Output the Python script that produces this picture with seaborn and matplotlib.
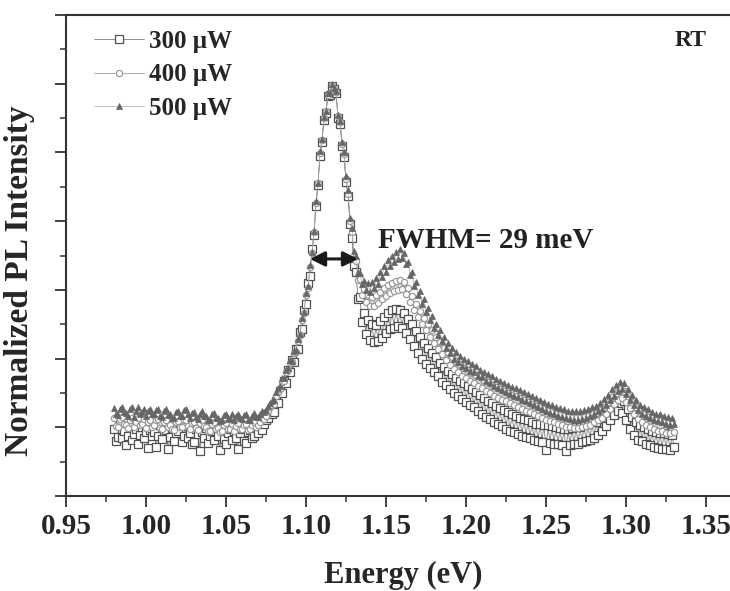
"""
PL normalizado a temperatura ambiente para tres potencias de excitación.
Reproduce la figura con seaborn + matplotlib; guarda out.png.
"""

import matplotlib
matplotlib.use("Agg")
import matplotlib.pyplot as plt
from matplotlib.ticker import MultipleLocator, NullFormatter
import seaborn as sns

# ─── Datos ──────────────────────────────────────────────────────────────────

# Energía (eV), paso de 1.25 meV; una fila = 25 meV
ENERGIA = [
    0.98000, 0.98125, 0.98250, 0.98375, 0.98500, 0.98625, 0.98750, 0.98875, 0.99000, 0.99125,
    0.99250, 0.99375, 0.99500, 0.99625, 0.99750, 0.99875, 1.00000, 1.00125, 1.00250, 1.00375,
    1.00500, 1.00625, 1.00750, 1.00875, 1.01000, 1.01125, 1.01250, 1.01375, 1.01500, 1.01625,
    1.01750, 1.01875, 1.02000, 1.02125, 1.02250, 1.02375, 1.02500, 1.02625, 1.02750, 1.02875,
    1.03000, 1.03125, 1.03250, 1.03375, 1.03500, 1.03625, 1.03750, 1.03875, 1.04000, 1.04125,
    1.04250, 1.04375, 1.04500, 1.04625, 1.04750, 1.04875, 1.05000, 1.05125, 1.05250, 1.05375,
    1.05500, 1.05625, 1.05750, 1.05875, 1.06000, 1.06125, 1.06250, 1.06375, 1.06500, 1.06625,
    1.06750, 1.06875, 1.07000, 1.07125, 1.07250, 1.07375, 1.07500, 1.07625, 1.07750, 1.07875,
    1.08000, 1.08125, 1.08250, 1.08375, 1.08500, 1.08625, 1.08750, 1.08875, 1.09000, 1.09125,
    1.09250, 1.09375, 1.09500, 1.09625, 1.09750, 1.09875, 1.10000, 1.10125, 1.10250, 1.10375,
    1.10500, 1.10625, 1.10750, 1.10875, 1.11000, 1.11125, 1.11250, 1.11375, 1.11500, 1.11625,
    1.11750, 1.11875, 1.12000, 1.12125, 1.12250, 1.12375, 1.12500, 1.12625, 1.12750, 1.12875,
    1.13000, 1.13125, 1.13250, 1.13375, 1.13500, 1.13625, 1.13750, 1.13875, 1.14000, 1.14125,
    1.14250, 1.14375, 1.14500, 1.14625, 1.14750, 1.14875, 1.15000, 1.15125, 1.15250, 1.15375,
    1.15500, 1.15625, 1.15750, 1.15875, 1.16000, 1.16125, 1.16250, 1.16375, 1.16500, 1.16625,
    1.16750, 1.16875, 1.17000, 1.17125, 1.17250, 1.17375, 1.17500, 1.17625, 1.17750, 1.17875,
    1.18000, 1.18125, 1.18250, 1.18375, 1.18500, 1.18625, 1.18750, 1.18875, 1.19000, 1.19125,
    1.19250, 1.19375, 1.19500, 1.19625, 1.19750, 1.19875, 1.20000, 1.20125, 1.20250, 1.20375,
    1.20500, 1.20625, 1.20750, 1.20875, 1.21000, 1.21125, 1.21250, 1.21375, 1.21500, 1.21625,
    1.21750, 1.21875, 1.22000, 1.22125, 1.22250, 1.22375, 1.22500, 1.22625, 1.22750, 1.22875,
    1.23000, 1.23125, 1.23250, 1.23375, 1.23500, 1.23625, 1.23750, 1.23875, 1.24000, 1.24125,
    1.24250, 1.24375, 1.24500, 1.24625, 1.24750, 1.24875, 1.25000, 1.25125, 1.25250, 1.25375,
    1.25500, 1.25625, 1.25750, 1.25875, 1.26000, 1.26125, 1.26250, 1.26375, 1.26500, 1.26625,
    1.26750, 1.26875, 1.27000, 1.27125, 1.27250, 1.27375, 1.27500, 1.27625, 1.27750, 1.27875,
    1.28000, 1.28125, 1.28250, 1.28375, 1.28500, 1.28625, 1.28750, 1.28875, 1.29000, 1.29125,
    1.29250, 1.29375, 1.29500, 1.29625, 1.29750, 1.29875, 1.30000, 1.30125, 1.30250, 1.30375,
    1.30500, 1.30625, 1.30750, 1.30875, 1.31000, 1.31125, 1.31250, 1.31375, 1.31500, 1.31625,
    1.31750, 1.31875, 1.32000, 1.32125, 1.32250, 1.32375, 1.32500, 1.32625, 1.32750, 1.32875,
    1.33000,
]

PL_300 = [
    0.98, 0.80, 0.86, 1.06, 0.84, 0.95, 0.74, 0.88, 1.01, 0.82, 0.90, 0.97, 0.76, 0.89, 1.00, 0.85, 0.93, 0.70, 0.96, 0.87,
    0.93, 0.72, 0.88, 1.03, 0.83, 0.95, 0.96, 0.69, 0.86, 0.99, 0.80, 0.91, 0.95, 1.04, 0.78, 0.88, 1.02, 0.84, 0.92, 0.76,
    0.78, 0.97, 0.90, 0.66, 0.93, 0.85, 0.99, 0.77, 0.87, 0.94, 0.81, 1.01, 0.88, 0.67, 1.00, 0.83, 0.75, 0.92, 0.98, 0.82,
    0.95, 0.84, 0.68, 0.92, 0.97, 0.80, 0.77, 0.93, 0.96, 0.85, 0.88, 1.00, 0.92, 1.02, 0.96, 1.05, 1.10, 1.14, 1.22, 1.20,
    1.22, 1.38, 1.36, 1.53, 1.50, 1.67, 1.65, 1.83, 1.81, 1.98, 1.95, 2.14, 2.14, 2.38, 2.43, 2.71, 2.79, 3.10, 3.20, 3.60,
    3.80, 4.22, 4.52, 4.95, 5.15, 5.47, 5.58, 5.82, 5.84, 5.97, 5.92, 5.86, 5.50, 5.42, 5.10, 4.93, 4.57, 4.36, 3.96, 3.75,
    3.35, 3.26, 2.86, 2.90, 2.53, 2.66, 2.36, 2.56, 2.27, 2.50, 2.24, 2.49, 2.26, 2.55, 2.30, 2.60, 2.37, 2.66, 2.43, 2.70,
    2.45, 2.72, 2.48, 2.70, 2.44, 2.66, 2.37, 2.58, 2.28, 2.50, 2.19, 2.40, 2.08, 2.31, 2.00, 2.22, 1.92, 2.15, 1.86, 2.08,
    1.80, 2.02, 1.74, 1.93, 1.66, 1.88, 1.61, 1.82, 1.55, 1.77, 1.50, 1.72, 1.45, 1.68, 1.41, 1.64, 1.37, 1.60, 1.32, 1.55,
    1.29, 1.52, 1.24, 1.47, 1.20, 1.43, 1.15, 1.38, 1.12, 1.35, 1.08, 1.31, 1.05, 1.28, 1.02, 1.25, 0.98, 1.22, 0.95, 1.19,
    0.93, 1.17, 0.90, 1.14, 0.88, 1.12, 0.86, 1.10, 0.84, 1.07, 0.82, 1.05, 0.80, 1.05, 0.79, 1.04, 0.67, 1.03, 0.77, 1.02,
    0.76, 1.00, 0.75, 0.99, 0.74, 0.98, 0.66, 0.98, 0.74, 0.99, 0.75, 1.00, 0.76, 1.01, 0.78, 1.03, 0.80, 1.05, 0.82, 1.07,
    0.85, 1.08, 0.89, 1.12, 0.94, 1.21, 1.02, 1.28, 1.10, 1.36, 1.18, 1.42, 1.24, 1.45, 1.21, 1.38, 1.10, 1.26, 0.98, 1.15,
    0.89, 1.08, 0.82, 1.04, 0.80, 1.00, 0.75, 0.97, 0.74, 0.95, 0.71, 0.93, 0.70, 0.92, 0.69, 0.91, 0.69, 0.90, 0.67, 0.89,
    0.72,
]

PL_400 = [
    1.13, 1.02, 1.00, 1.12, 1.15, 1.05, 1.04, 0.99, 1.11, 1.14, 1.00, 1.07, 1.13, 1.03, 1.05, 1.12, 0.99, 1.08, 1.11, 1.01,
    1.04, 1.10, 1.12, 0.99, 0.98, 1.08, 1.11, 1.01, 1.03, 0.97, 0.96, 1.07, 1.09, 1.00, 1.01, 1.10, 1.11, 1.02, 0.97, 1.06,
    1.08, 0.99, 0.96, 1.06, 1.10, 1.02, 1.01, 0.95, 0.95, 1.05, 1.07, 0.98, 0.99, 0.93, 0.94, 1.04, 1.06, 0.97, 0.98, 1.05,
    0.95, 1.02, 1.06, 0.98, 0.97, 1.04, 1.05, 0.96, 0.97, 1.03, 1.08, 1.01, 1.03, 1.08, 1.14, 1.12, 1.17, 1.23, 1.29, 1.32,
    1.34, 1.45, 1.51, 1.56, 1.66, 1.68, 1.80, 1.83, 1.94, 1.95, 2.08, 2.10, 2.26, 2.34, 2.56, 2.66, 2.92, 3.03, 3.33, 3.53,
    3.84, 4.27, 4.55, 4.99, 5.18, 5.50, 5.60, 5.84, 5.86, 5.98, 5.93, 5.88, 5.53, 5.44, 5.12, 4.97, 4.62, 4.40, 4.00, 3.84,
    3.45, 3.42, 3.15, 3.16, 2.93, 3.01, 2.82, 2.93, 2.76, 2.90, 2.77, 2.93, 2.81, 2.97, 2.86, 3.02, 2.91, 3.07, 2.95, 3.10,
    2.98, 3.13, 3.00, 3.15, 3.01, 3.12, 2.94, 3.03, 2.83, 2.91, 2.71, 2.79, 2.60, 2.69, 2.50, 2.59, 2.41, 2.50, 2.31, 2.41,
    2.22, 2.32, 2.14, 2.24, 2.06, 2.16, 1.98, 2.09, 1.91, 2.02, 1.85, 1.97, 1.80, 1.92, 1.75, 1.87, 1.71, 1.83, 1.67, 1.79,
    1.64, 1.76, 1.60, 1.73, 1.57, 1.69, 1.53, 1.66, 1.50, 1.62, 1.46, 1.59, 1.43, 1.56, 1.40, 1.53, 1.38, 1.50, 1.35, 1.47,
    1.32, 1.45, 1.30, 1.42, 1.27, 1.39, 1.24, 1.37, 1.22, 1.34, 1.19, 1.31, 1.16, 1.29, 1.14, 1.26, 1.11, 1.24, 1.09, 1.22,
    1.07, 1.20, 1.05, 1.18, 1.03, 1.16, 1.01, 1.15, 1.00, 1.13, 0.99, 1.13, 0.99, 1.13, 1.00, 1.15, 1.02, 1.17, 1.04, 1.19,
    1.07, 1.21, 1.10, 1.25, 1.14, 1.30, 1.20, 1.37, 1.27, 1.44, 1.34, 1.50, 1.40, 1.55, 1.42, 1.53, 1.37, 1.46, 1.28, 1.37,
    1.20, 1.30, 1.12, 1.23, 1.07, 1.19, 1.03, 1.15, 1.00, 1.13, 0.97, 1.10, 0.95, 1.09, 0.94, 1.07, 0.92, 1.06, 0.91, 1.05,
    0.93,
]

PL_500 = [
    1.28, 1.20, 1.18, 1.27, 1.30, 1.22, 1.21, 1.16, 1.26, 1.29, 1.15, 1.23, 1.29, 1.20, 1.22, 1.27, 1.17, 1.24, 1.27, 1.19,
    1.20, 1.25, 1.27, 1.16, 1.15, 1.23, 1.26, 1.18, 1.19, 1.14, 1.13, 1.22, 1.24, 1.16, 1.17, 1.25, 1.26, 1.19, 1.14, 1.21,
    1.22, 1.15, 1.12, 1.20, 1.24, 1.17, 1.16, 1.11, 1.11, 1.19, 1.21, 1.14, 1.14, 1.09, 1.10, 1.18, 1.20, 1.12, 1.13, 1.19,
    1.10, 1.16, 1.20, 1.13, 1.12, 1.18, 1.19, 1.11, 1.11, 1.17, 1.21, 1.15, 1.15, 1.20, 1.24, 1.22, 1.25, 1.31, 1.36, 1.38,
    1.40, 1.51, 1.57, 1.60, 1.71, 1.72, 1.84, 1.86, 1.98, 1.97, 2.11, 2.12, 2.29, 2.36, 2.59, 2.68, 2.95, 3.05, 3.36, 3.55,
    3.86, 4.30, 4.56, 5.02, 5.20, 5.52, 5.61, 5.86, 5.87, 6.00, 5.94, 5.90, 5.55, 5.46, 5.15, 5.00, 4.65, 4.45, 4.05, 3.90,
    3.56, 3.49, 3.26, 3.24, 3.08, 3.13, 3.00, 3.10, 2.97, 3.11, 3.02, 3.17, 3.08, 3.26, 3.18, 3.35, 3.26, 3.43, 3.34, 3.49,
    3.40, 3.55, 3.45, 3.59, 3.47, 3.54, 3.37, 3.41, 3.22, 3.26, 3.06, 3.11, 2.92, 2.98, 2.79, 2.86, 2.68, 2.74, 2.56, 2.62,
    2.45, 2.51, 2.35, 2.41, 2.25, 2.32, 2.15, 2.23, 2.08, 2.16, 2.00, 2.09, 1.95, 2.04, 1.89, 1.99, 1.86, 1.96, 1.82, 1.92,
    1.80, 1.89, 1.75, 1.84, 1.73, 1.80, 1.67, 1.77, 1.64, 1.74, 1.60, 1.70, 1.57, 1.67, 1.54, 1.64, 1.51, 1.62, 1.49, 1.59,
    1.46, 1.57, 1.44, 1.54, 1.40, 1.51, 1.38, 1.48, 1.35, 1.45, 1.32, 1.42, 1.29, 1.39, 1.26, 1.37, 1.24, 1.34, 1.21, 1.32,
    1.19, 1.30, 1.17, 1.28, 1.15, 1.26, 1.13, 1.24, 1.12, 1.23, 1.11, 1.23, 1.11, 1.23, 1.12, 1.25, 1.14, 1.27, 1.16, 1.29,
    1.19, 1.31, 1.23, 1.35, 1.26, 1.41, 1.32, 1.47, 1.40, 1.55, 1.46, 1.61, 1.53, 1.66, 1.55, 1.64, 1.49, 1.56, 1.39, 1.47,
    1.33, 1.40, 1.25, 1.33, 1.20, 1.29, 1.17, 1.26, 1.13, 1.22, 1.10, 1.20, 1.09, 1.19, 1.07, 1.17, 1.05, 1.15, 1.04, 1.14,
    1.05,
]

ETIQUETAS = ["300 μW", "400 μW", "500 μW"]

# FWHM marcado con la flecha doble
FWHM_IZQ, FWHM_DER, FWHM_Y = 1.1025, 1.1325, 3.45

# ─── Estilo ─────────────────────────────────────────────────────────────────

sns.set_style("ticks")
plt.rcParams["font.family"] = ["Liberation Serif", "DejaVu Serif"]
plt.rcParams["font.weight"] = "bold"
plt.rcParams["axes.labelweight"] = "bold"

ESTILOS = [
    dict(marker="s", markersize=6, markerfacecolor="white",
         markeredgecolor="#505050", markeredgewidth=0.9, color="#606060"),
    dict(marker="o", markersize=4.5, markerfacecolor="white",
         markeredgecolor="#9a9a9a", markeredgewidth=0.9, color="#8c8c8c"),
    dict(marker="^", markersize=4, markerfacecolor="#666666",
         markeredgecolor="#666666", markeredgewidth=0.5, color="#a8a8a8"),
]

# ─── Figura ─────────────────────────────────────────────────────────────────

fig = plt.figure(figsize=(7.3, 5.91), dpi=100)
ax = fig.add_axes([66 / 730, 95 / 591, 664 / 730, 481 / 591])

for serie, etiqueta, estilo in zip([PL_300, PL_400, PL_500], ETIQUETAS, ESTILOS):
    sns.lineplot(x=ENERGIA, y=serie, ax=ax, label=etiqueta, estimator=None,
                 sort=False, linewidth=0.5, **estilo)

ax.set_xlim(0.95, 1.365)
ax.set_ylim(0, 7)

ax.xaxis.set_major_locator(MultipleLocator(0.05))
ax.xaxis.set_minor_locator(MultipleLocator(0.025))
ax.yaxis.set_major_locator(MultipleLocator(1))
ax.yaxis.set_minor_locator(MultipleLocator(0.5))
ax.yaxis.set_major_formatter(NullFormatter())
ax.xaxis.set_major_formatter(plt.FuncFormatter(lambda v, p: f"{v:.2f}"))

ax.tick_params(axis="both", which="major", direction="out", length=8,
               width=1.3, color="#333333", labelsize=21, pad=4)
ax.tick_params(axis="both", which="minor", direction="out", length=4,
               width=1.1, color="#333333")
ax.tick_params(top=False, right=False)

for lado in ["left", "bottom", "top"]:
    ax.spines[lado].set_linewidth(1.5)
    ax.spines[lado].set_color("#333333")
ax.spines["right"].set_visible(False)

ax.set_xlabel("Energy (eV)", fontsize=22)
ax.xaxis.set_label_coords(0.508, -0.135)
ax.set_ylabel("Normalized PL Intensity", fontsize=24)
ax.yaxis.set_label_coords(-0.046, 0.447)

ax.annotate("", xy=(FWHM_IZQ, FWHM_Y), xytext=(FWHM_DER, FWHM_Y),
            arrowprops=dict(arrowstyle="<|-|>", color="#1a1a1a", lw=2.2,
                            mutation_scale=22, shrinkA=0, shrinkB=0))
ax.text(1.145, 3.72, "FWHM= 29 meV", fontsize=21, va="center", ha="left",
        color="#222222")
ax.text(0.94, 0.948, "RT", fontsize=17, transform=ax.transAxes,
        ha="center", va="center", color="#222222")

ax.legend(loc="upper left", bbox_to_anchor=(0.02, 1.0), frameon=False,
          fontsize=18, handlelength=2.0, handletextpad=0.2,
          labelspacing=0.42, borderaxespad=0.2)

fig.savefig("out.png", dpi=100)
